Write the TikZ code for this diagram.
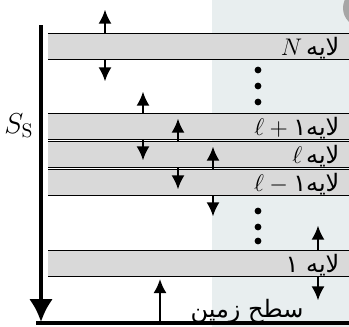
\documentclass[tikz,border=0pt]{standalone}
\usepackage{amsmath}
\usepackage{fontspec}
\usepackage{tikz}
\usetikzlibrary{positioning,arrows.meta}
\TeXXeTstate=1
\newfontfamily\fafont[Script=Arabic]{DejaVu Sans}
\definecolor{bandgray}{RGB}{217,217,217}
\definecolor{pagetint}{RGB}{232,238,239}

\begin{document}
\begin{tikzpicture}[x=0.5pt, y=-0.5pt, every node/.style={font=\fontsize{12}{14}\selectfont},
  band/.style={fill=bandgray, inner sep=0pt, minimum width=150.5pt, minimum height=12.5pt, anchor=west},
  rim/.style={line width=0.65pt},
  flux/.style={-{Latex[length=7pt,width=6.5pt]}, line width=1pt},
  lbl/.style={anchor=base east, inner sep=0pt},
  vdot/.style={circle, fill, inner sep=0pt, minimum size=3.4pt}]
  \useasboundingbox (0,0) rectangle (349,327);
  \fill[pagetint] (212,0) rectangle (349,327);
  \begin{scope}
    \clip (0,0) rectangle (349,327);
    \fill[gray!70] (362,8) circle[radius=19];
  \end{scope}
  % layers
  \node[band] (LN) at (48,46.5) {};
  \node[band] (Lup) at (48,126.5) {};
  \node[band] (Lmid) at (48,154.5) {};
  \node[band] (Ldn) at (48,182.5) {};
  \node[band] (L1) at (48,263.5) {};
  \foreach \b in {LN,Lup,Lmid,Ldn,L1} {
    \draw[rim] (\b.north west) -- (\b.north east);
    \draw[rim] (\b.south west) -- (\b.south east);
  }
  \node[lbl] (tN) at ([xshift=-5pt, yshift=1.75pt]LN.south east) {$N$\,\fafont\beginR لایه\endR};
  \node[lbl] (tup) at ([xshift=-5pt, yshift=1.75pt]Lup.south east) {$\ell+{}$\fafont\beginR لایه۱\endR};
  \node[lbl] (tmid) at ([xshift=-5pt, yshift=1.75pt]Lmid.south east) {$\ell$\,\fafont\beginR لایه\endR};
  \node[lbl] (tdn) at ([xshift=-5pt, yshift=1.75pt]Ldn.south east) {$\ell-{}$\fafont\beginR لایه۱\endR};
  \node[lbl] (t1) at ([xshift=-5pt, yshift=1.75pt]L1.south east) {\fafont\beginR لایه ۱\endR};
  % fluxes
  \draw[flux] ([xshift=28.5pt]LN.north west) -- ++(0,-24);
  \draw[flux] ([xshift=28.5pt]LN.south west) -- ++(0,22);
  \draw[flux] ([xshift=47.5pt]Lup.north west) -- ++(0,-22);
  \draw[flux] ([xshift=47.5pt]Lup.south west) -- ++(0,21);
  \draw[flux] ([xshift=65pt]Lmid.north west) -- ++(0,-23);
  \draw[flux] ([xshift=65pt]Lmid.south west) -- ++(0,22);
  \draw[flux] ([xshift=82.5pt]Ldn.north west) -- ++(0,-23);
  \draw[flux] ([xshift=82.5pt]Ldn.south west) -- ++(0,21);
  \draw[flux] ([xshift=135pt]L1.north west) -- ++(0,-25);
  \draw[flux] ([xshift=135pt]L1.south west) -- ++(0,24);
  \foreach \y in {70,86,102,211,227,241}
    \node[vdot] (d\y) at (258,\y) {};
  % ground and storage
  \coordinate (g0) at (36,323);
  \coordinate (g1) at (349,323);
  \draw[line width=2pt] (g0) -- (g1);
  \draw[flux] ([xshift=62pt]g0) -- ++(0,-44);
  \node[anchor=base, inner sep=0pt] (gl) at (247,317) {\fafont\beginR سطح زمین\endR};
  \coordinate (top) at (41,25);
  \coordinate (bot) at (41,322);
  \draw[line width=2pt, -{Latex[length=11.5pt,width=12pt]}] (top) -- (bot);
  \node[font=\fontsize{14}{16}\selectfont] (SS) at (19,126) {$S_\mathrm{S}$};
\end{tikzpicture}
\end{document}
